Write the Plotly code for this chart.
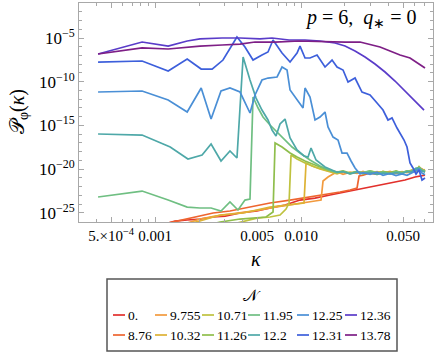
import plotly.graph_objects as go

# N values (legend order) and their colours
n_labels = ["0.", "8.76", "9.755", "10.32", "10.71", "11.26",
            "11.95", "12.2", "12.25", "12.31", "12.36", "13.78"]
n_colors = ["#e2302c", "#ee6530", "#f29a3e", "#ddb234", "#bfc23f", "#8fbe4c",
            "#6fbf82", "#4ea8a8", "#4a8fd6", "#3d5fdb", "#5a3cc9", "#7e1f86"]

# kappa and log10 P_phi(kappa), one pair per N
kappa_0 = [1.17e-3, 1.37e-3, 1.66e-3, 2.03e-3, 2.50e-3, 3.02e-3, 3.82e-3, 4.99e-3, 6.13e-3,
           7.77e-3, 9.84e-3, 1.247e-2, 1.580e-2, 2.002e-2, 2.235e-2, 2.535e-2, 2.877e-2,
           3.212e-2, 4.070e-2, 5.156e-2, 6.036e-2, 7.068e-2]
logp_0 = [-26.28, -25.94, -25.82, -25.71, -25.48, -25.37, -25.02, -24.79, -24.45,
          -24.11, -23.54, -23.31, -22.96, -22.62, -22.51, -22.28, -22.16,
          -21.93, -21.59, -21.25, -20.90, -20.68]

kappa_876 = [1.23e-3, 1.66e-3, 2.03e-3, 2.50e-3, 3.26e-3, 4.47e-3, 6.13e-3, 8.41e-3, 1.152e-2,
             1.460e-2, 1.849e-2, 2.166e-2, 2.419e-2, 2.497e-2, 2.659e-2, 2.970e-2, 3.316e-2,
             3.644e-2, 4.070e-2, 4.474e-2, 4.918e-2, 5.321e-2, 5.757e-2, 6.132e-2, 6.429e-2,
             6.741e-2, 7.068e-2]
logp_876 = [-26.17, -25.71, -25.37, -25.02, -24.79, -24.34, -23.88, -23.54, -23.19,
            -22.85, -22.62, -22.39, -22.16, -20.79, -20.70, -20.45, -20.60,
            -20.35, -20.50, -20.30, -20.45, -20.25, -20.35, -20.10, -19.85,
            -20.00, -20.20]

kappa_9755 = [1.66e-3, 2.03e-3, 2.58e-3, 3.26e-3, 4.13e-3, 5.24e-3, 6.64e-3, 8.41e-3, 1.065e-2,
              1.247e-2, 1.371e-2, 1.415e-2, 1.530e-2, 1.765e-2, 1.940e-2, 2.166e-2, 2.419e-2,
              2.659e-2, 2.970e-2, 3.316e-2, 3.644e-2, 4.070e-2, 4.474e-2, 4.918e-2, 5.321e-2,
              5.757e-2, 6.132e-2, 6.429e-2, 6.741e-2, 7.068e-2]
logp_9755 = [-26.17, -25.71, -25.37, -25.14, -24.91, -24.68, -24.34, -24.11, -23.88,
             -23.65, -23.54, -21.36, -20.90, -20.30, -20.60, -20.35, -20.50,
             -20.25, -20.55, -20.30, -20.45, -20.25, -20.50, -20.30, -20.40,
             -20.15, -20.30, -19.80, -20.10, -20.25]

kappa_1032 = [1.66e-3, 2.03e-3, 2.79e-3, 4.01e-3, 6.13e-3, 8.41e-3, 1.048e-2, 1.082e-2, 1.190e-2,
              1.349e-2, 1.580e-2, 1.765e-2, 1.940e-2, 2.166e-2, 2.419e-2, 2.659e-2, 2.970e-2,
              3.316e-2, 3.644e-2, 4.070e-2, 4.474e-2, 4.918e-2, 5.321e-2, 5.757e-2, 6.132e-2,
              6.429e-2, 6.741e-2, 7.068e-2]
logp_1032 = [-26.28, -25.94, -25.25, -25.02, -24.34, -24.11, -23.88, -19.30, -19.65,
             -19.99, -20.35, -20.55, -20.30, -20.50, -20.25, -20.50, -20.30,
             -20.55, -20.25, -20.45, -20.30, -20.45, -20.20, -20.35, -20.05,
             -19.75, -20.20, -20.05]

kappa_1071 = [3.02e-3, 3.82e-3, 4.99e-3, 6.13e-3, 7.18e-3, 7.89e-3, 8.28e-3, 8.54e-3, 9.39e-3,
              1.065e-2, 1.247e-2, 1.460e-2, 1.765e-2, 1.940e-2, 2.166e-2, 2.419e-2, 2.659e-2,
              2.970e-2, 3.316e-2, 3.644e-2, 4.070e-2, 4.474e-2, 4.918e-2, 5.321e-2, 5.757e-2,
              6.132e-2, 6.429e-2, 6.741e-2, 7.068e-2]
logp_1071 = [-26.51, -26.05, -25.60, -25.48, -25.25, -24.57, -23.88, -18.39, -18.84,
             -19.30, -19.76, -20.10, -20.45, -20.25, -20.55, -20.30, -20.45,
             -20.20, -20.40, -20.30, -20.50, -20.25, -20.40, -20.30, -20.10,
             -20.25, -19.70, -20.05, -20.35]

kappa_1126 = [2.20e-3, 2.79e-3, 3.82e-3, 4.84e-3, 5.76e-3, 6.43e-3, 6.64e-3, 7.41e-3, 8.41e-3,
              9.39e-3, 1.065e-2, 1.247e-2, 1.460e-2, 1.765e-2, 1.940e-2, 2.166e-2, 2.419e-2,
              2.659e-2, 2.970e-2, 3.316e-2, 3.644e-2, 4.070e-2, 4.474e-2, 4.918e-2, 5.321e-2,
              5.757e-2, 6.132e-2, 6.429e-2, 6.741e-2, 7.068e-2]
logp_1126 = [-26.51, -26.05, -25.71, -25.60, -25.48, -24.91, -17.01, -17.47, -18.16,
             -18.62, -19.07, -19.53, -19.99, -20.35, -20.20, -20.45, -20.25,
             -20.55, -20.35, -20.50, -20.30, -20.40, -20.20, -20.45, -20.25,
             -20.30, -19.95, -19.85, -20.15, -20.25]

kappa_1195 = [4.07e-4, 8.15e-4, 1.23e-3, 1.66e-3, 2.03e-3, 2.42e-3, 2.83e-3, 3.26e-3, 3.70e-3,
              4.13e-3, 4.47e-3, 4.69e-3, 5.08e-3, 5.49e-3, 6.13e-3, 6.96e-3, 7.77e-3,
              8.68e-3, 9.84e-3, 1.152e-2, 1.349e-2, 1.580e-2, 1.765e-2, 1.940e-2, 2.166e-2,
              2.419e-2, 2.659e-2, 2.970e-2, 3.316e-2, 3.644e-2, 4.070e-2, 4.474e-2, 4.918e-2,
              5.321e-2, 5.757e-2, 6.132e-2, 6.429e-2, 6.741e-2, 7.068e-2]
logp_1195 = [-23.19, -22.51, -23.54, -24.34, -24.45, -24.45, -24.79, -23.76, -24.68,
             -23.54, -23.42, -11.75, -13.01, -14.04, -14.95, -15.87, -16.67,
             -17.47, -18.16, -18.96, -19.65, -20.15, -20.40, -20.25, -20.50,
             -20.30, -20.40, -20.20, -20.45, -20.35, -20.55, -20.30, -20.40,
             -20.20, -20.35, -20.00, -19.80, -20.10, -20.20]

kappa_122 = [4.07e-4, 8.15e-4, 1.27e-3, 1.68e-3, 2.10e-3, 2.42e-3, 2.83e-3, 3.26e-3, 3.64e-3,
             4.01e-3, 4.47e-3, 4.92e-3, 5.40e-3, 5.94e-3, 6.33e-3, 6.74e-3, 7.18e-3,
             7.77e-3, 8.41e-3, 9.39e-3, 1.048e-2, 1.117e-2, 1.171e-2, 1.267e-2, 1.460e-2,
             1.765e-2, 1.940e-2, 2.166e-2, 2.419e-2, 2.659e-2, 2.970e-2, 3.316e-2, 3.644e-2,
             4.070e-2, 4.474e-2, 4.918e-2, 5.321e-2, 5.757e-2, 6.132e-2, 6.429e-2, 6.741e-2,
             7.068e-2]
logp_122 = [-15.98, -16.10, -17.47, -18.84, -18.39, -17.13, -19.07, -17.93, -18.73,
            -7.17, -9.81, -11.87, -13.24, -14.38, -15.53, -16.21, -14.84,
            -14.27, -16.44, -17.81, -18.50, -18.62, -17.59, -18.96, -19.76,
            -20.35, -20.30, -20.55, -20.35, -20.50, -20.40, -20.60, -20.45,
            -20.55, -20.40, -20.50, -20.30, -20.25, -19.90, -19.95, -20.20,
            -20.35]

kappa_1225 = [4.07e-4, 8.15e-4, 1.23e-3, 1.66e-3, 2.07e-3, 2.42e-3, 2.83e-3, 3.26e-3, 3.82e-3,
              4.47e-3, 4.84e-3, 5.40e-3, 5.94e-3, 6.85e-3, 7.41e-3, 8.02e-3, 8.41e-3,
              9.39e-3, 1.032e-2, 1.065e-2, 1.152e-2, 1.247e-2, 1.349e-2, 1.460e-2, 1.530e-2,
              1.657e-2, 1.792e-2, 1.909e-2, 2.066e-2, 2.201e-2, 2.344e-2, 2.535e-2, 2.659e-2,
              2.970e-2, 3.316e-2, 3.644e-2, 4.070e-2, 4.474e-2, 4.918e-2, 5.321e-2, 5.757e-2,
              6.132e-2, 6.429e-2, 6.741e-2, 7.068e-2]
logp_1225 = [-11.18, -11.06, -12.09, -13.47, -10.72, -14.27, -11.06, -10.72, -11.18,
             -13.58, -11.52, -9.81, -9.58, -9.46, -8.32, -8.66, -10.95,
             -12.09, -13.01, -10.72, -11.75, -14.38, -14.04, -13.47, -15.18,
             -16.33, -16.67, -18.16, -18.16, -19.07, -19.87, -20.56, -20.40,
             -20.60, -20.35, -20.70, -20.50, -20.75, -20.55, -20.70, -20.40,
             -20.20, -20.00, -20.45, -20.65]

kappa_1231 = [4.07e-4, 8.15e-4, 1.23e-3, 1.66e-3, 2.07e-3, 2.46e-3, 2.92e-3, 3.64e-3, 4.13e-3,
              4.69e-3, 5.40e-3, 5.94e-3, 6.43e-3, 7.41e-3, 8.41e-3, 9.39e-3, 9.84e-3,
              1.065e-2, 1.152e-2, 1.287e-2, 1.460e-2, 1.631e-2, 1.765e-2, 1.940e-2, 2.099e-2,
              2.344e-2, 2.616e-2, 2.970e-2, 3.316e-2, 3.644e-2, 3.943e-2, 4.200e-2, 4.545e-2,
              4.766e-2, 5.076e-2, 5.321e-2, 5.579e-2, 5.849e-2, 6.132e-2, 6.429e-2, 6.741e-2,
              7.068e-2]
logp_1231 = [-7.75, -7.63, -8.78, -7.40, -8.55, -8.55, -7.52, -4.89, -6.03,
             -7.52, -6.95, -6.60, -5.23, -6.72, -7.75, -6.72, -5.92,
             -7.29, -7.29, -6.95, -8.32, -7.52, -8.32, -8.66, -10.03,
             -9.58, -11.18, -11.52, -12.44, -13.24, -14.38, -14.15, -15.30,
             -15.87, -16.67, -17.47, -19.30, -19.87, -20.56, -20.10, -21.25,
             -21.02]

kappa_1236 = [4.07e-4, 8.15e-4, 1.23e-3, 1.66e-3, 2.03e-3, 2.88e-3, 3.82e-3, 5.24e-3, 6.33e-3,
              8.28e-3, 1.065e-2, 1.349e-2, 1.710e-2, 2.002e-2, 2.344e-2, 2.744e-2, 3.212e-2,
              3.761e-2, 4.404e-2, 4.918e-2, 5.492e-2, 6.132e-2, 6.532e-2, 6.957e-2]
logp_1236 = [-6.83, -5.46, -5.92, -5.34, -5.11, -5.00, -5.00, -5.11, -5.00,
             -5.23, -5.23, -5.34, -5.57, -5.92, -6.49, -7.17, -7.97,
             -8.89, -9.92, -10.72, -11.41, -12.21, -12.67, -13.24]

kappa_1378 = [4.07e-4, 8.15e-4, 1.23e-3, 1.66e-3, 2.03e-3, 2.88e-3, 3.82e-3, 4.84e-3, 6.64e-3,
              9.69e-3, 1.247e-2, 1.631e-2, 2.002e-2, 2.535e-2, 3.065e-2, 3.476e-2, 4.070e-2,
              4.766e-2, 5.579e-2, 6.328e-2, 7.068e-2]
logp_1378 = [-6.83, -6.14, -6.26, -6.03, -5.92, -5.80, -5.69, -5.46, -5.46,
             -5.34, -5.40, -5.46, -5.46, -5.46, -5.80, -6.03, -6.49,
             -6.95, -7.29, -7.86, -8.43]

series = [(kappa_0, logp_0), (kappa_876, logp_876), (kappa_9755, logp_9755),
          (kappa_1032, logp_1032), (kappa_1071, logp_1071), (kappa_1126, logp_1126),
          (kappa_1195, logp_1195), (kappa_122, logp_122), (kappa_1225, logp_1225),
          (kappa_1231, logp_1231), (kappa_1236, logp_1236), (kappa_1378, logp_1378)]

x_ticks = [5e-4, 1e-3, 5e-3, 1e-2, 5e-2]
x_ticktext = ["5.×10<sup>−4</sup>", "0.001", "0.005", "0.010", "0.050"]
x_minor = [4e-4, 6e-4, 7e-4, 8e-4, 9e-4, 2e-3, 3e-3, 4e-3, 6e-3, 7e-3, 8e-3, 9e-3,
           2e-2, 3e-2, 4e-2, 6e-2, 7e-2]
y_ticks = [1e-25, 1e-20, 1e-15, 1e-10, 1e-5]
y_ticktext = ["10<sup>−25</sup>", "10<sup>−20</sup>", "10<sup>−15</sup>",
              "10<sup>−10</sup>", "10<sup>−5</sup>"]
y_minor = [10.0 ** e for e in range(-26, 0)]

FONT = "Liberation Serif"
AXIS_GRAY = "#a8a8a8"

# plot area in pixels, used to place the hand-built legend
L, R, T, B = 79, 433, 3, 222


def px(x):
    return (x - L) / (R - L)


def py(y):
    return (B - y) / (B - T)


fig = go.Figure()
for (k, lp), name, col in zip(series, n_labels, n_colors):
    fig.add_trace(go.Scatter(x=k, y=[10.0 ** v for v in lp], mode="lines", name=name,
                             line=dict(color=col, width=1.7), showlegend=False))

axis_common = dict(type="log", ticks="inside", showline=True, linecolor=AXIS_GRAY,
                   linewidth=1, tickcolor=AXIS_GRAY, ticklen=5, mirror="allticks",
                   showgrid=False, zeroline=False)

fig.update_xaxes(range=[-3.521, -1.096], tickvals=x_ticks, ticktext=x_ticktext,
                 tickfont=dict(family=FONT, size=15, color="black"),
                 minor=dict(tickvals=x_minor, ticklen=3, ticks="inside", tickcolor=AXIS_GRAY),
                 **axis_common)
fig.update_yaxes(range=[-26.05, -0.995], tickvals=y_ticks, ticktext=y_ticktext,
                 tickfont=dict(family=FONT, size=17, color="black"),
                 minor=dict(tickvals=y_minor, ticklen=3, ticks="inside", tickcolor=AXIS_GRAY),
                 **axis_common)

annotations = [
    dict(x=px(419), y=py(18), xref="paper", yref="paper", xanchor="right", yanchor="middle",
         text="<i>p</i> = 6,  <i>q</i><sub>∗</sub> = 0", showarrow=False,
         font=dict(family=FONT, size=20, color="black")),
    dict(x=px(256), y=py(259), xref="paper", yref="paper", xanchor="center", yanchor="middle",
         text="<i>κ</i>", showarrow=False, font=dict(family=FONT, size=20, color="black")),
    dict(x=px(18), y=py(112), xref="paper", yref="paper", xanchor="center", yanchor="middle",
         text="𝒫<sub>φ</sub>(<i>κ</i>)", textangle=-90, showarrow=False,
         font=dict(family=FONT, size=20, color="black")),
    dict(x=px(252), y=py(295), xref="paper", yref="paper", xanchor="center", yanchor="middle",
         text="𝒩", showarrow=False, font=dict(family=FONT, size=16, color="black")),
]
shapes = [dict(type="rect", xref="paper", yref="paper", x0=px(107), x1=px(397),
               y0=py(279), y1=py(351), line=dict(color="#555555", width=1.5))]

# legend entries, two per column
col_left = [113, 155, 202, 248, 297, 345]
row_y = [315, 335]
for i, (name, col) in enumerate(zip(n_labels, n_colors)):
    cx = col_left[i // 2]
    ry = row_y[i % 2]
    shapes.append(dict(type="line", xref="paper", yref="paper", x0=px(cx), x1=px(cx + 12),
                       y0=py(ry), y1=py(ry), line=dict(color=col, width=1.7)))
    annotations.append(dict(x=px(cx + 13), y=py(ry), xref="paper", yref="paper",
                            xanchor="left", yanchor="middle", text=name, showarrow=False,
                            font=dict(family=FONT, size=13.5, color="black")))

fig.update_layout(width=444, height=354, margin=dict(l=L, r=444 - R, t=T, b=354 - B),
                  paper_bgcolor="white", plot_bgcolor="white",
                  annotations=annotations, shapes=shapes)

# drop the browser's default 8px page margin so the figure sits at the window corner
fig.write_html("out.html", config={"displayModeBar": False},
               post_script="document.body.style.margin = '0';")
